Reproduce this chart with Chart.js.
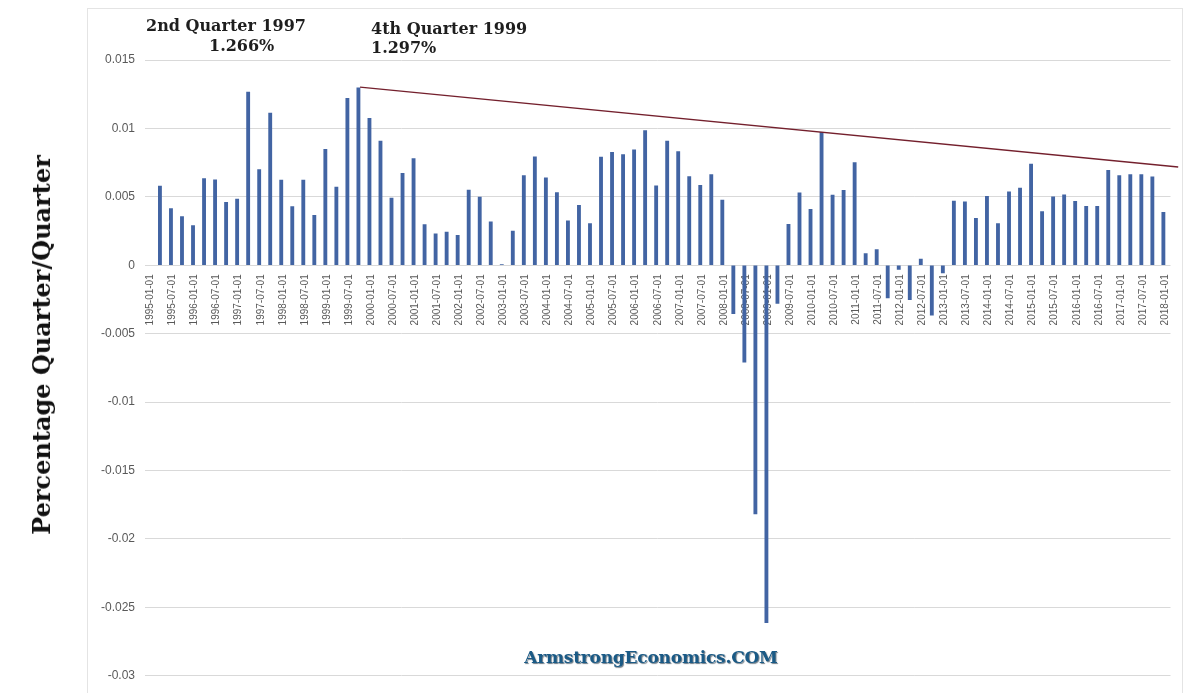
<!DOCTYPE html>
<html>
<head>
<meta charset="utf-8">
<script src="https://cdn.jsdelivr.net/npm/chart.js@4/dist/chart.umd.min.js"></script>
<style>
  html, body { margin: 0; padding: 0; background: #fff; }
  #wrap { position: relative; width: 1189px; height: 693px; overflow: hidden; }
  #frame { position: absolute; left: 87px; top: 8px; width: 1096px; height: 720px; border: 1px solid #e4e4e4; box-sizing: border-box; }
  canvas { position: absolute; left: 0; top: 0; }
  .ann { position: absolute; font-family: "DejaVu Serif", serif; font-weight: bold; color: #1e1e1e; font-size: 16px; line-height: 16px; white-space: nowrap; }
  #ytitle { position: absolute; font-family: "DejaVu Serif", serif; font-weight: bold; color: #111; font-size: 24px; line-height: 26px; white-space: nowrap;
            left: 42px; top: 345px; transform: translate(-50%, -50%) rotate(-90deg); }
  #wm { position: absolute; font-family: "DejaVu Serif", serif; font-weight: bold; color: #1a5a86; font-size: 17px; line-height: 20px; white-space: nowrap;
        left: 651px; top: 657px; transform: translate(-50%, -50%); text-shadow: 1px 1px 1px #6f7c86; letter-spacing: -0.2px; }
</style>
</head>
<body>
<div id="wrap">
  <div id="frame"></div>
  <canvas id="c" width="1189" height="693"></canvas>
  <div class="ann" style="left:146px; top:18px;">2nd Quarter 1997</div>
  <div class="ann" style="left:209px; top:38px;">1.266%</div>
  <div class="ann" style="left:371px; top:21px;">4th Quarter 1999</div>
  <div class="ann" style="left:371px; top:40px;">1.297%</div>
  <div id="ytitle">Percentage Quarter/Quarter</div>
  <div id="wm">ArmstrongEconomics.COM</div>
</div>
<script>
// Quarterly categories 1995-01-01 .. 2018-01-01
const quarterLabels = [
  "1995-01-01","1995-04-01","1995-07-01","1995-10-01",
  "1996-01-01","1996-04-01","1996-07-01","1996-10-01",
  "1997-01-01","1997-04-01","1997-07-01","1997-10-01",
  "1998-01-01","1998-04-01","1998-07-01","1998-10-01",
  "1999-01-01","1999-04-01","1999-07-01","1999-10-01",
  "2000-01-01","2000-04-01","2000-07-01","2000-10-01",
  "2001-01-01","2001-04-01","2001-07-01","2001-10-01",
  "2002-01-01","2002-04-01","2002-07-01","2002-10-01",
  "2003-01-01","2003-04-01","2003-07-01","2003-10-01",
  "2004-01-01","2004-04-01","2004-07-01","2004-10-01",
  "2005-01-01","2005-04-01","2005-07-01","2005-10-01",
  "2006-01-01","2006-04-01","2006-07-01","2006-10-01",
  "2007-01-01","2007-04-01","2007-07-01","2007-10-01",
  "2008-01-01","2008-04-01","2008-07-01","2008-10-01",
  "2009-01-01","2009-04-01","2009-07-01","2009-10-01",
  "2010-01-01","2010-04-01","2010-07-01","2010-10-01",
  "2011-01-01","2011-04-01","2011-07-01","2011-10-01",
  "2012-01-01","2012-04-01","2012-07-01","2012-10-01",
  "2013-01-01","2013-04-01","2013-07-01","2013-10-01",
  "2014-01-01","2014-04-01","2014-07-01","2014-10-01",
  "2015-01-01","2015-04-01","2015-07-01","2015-10-01",
  "2016-01-01","2016-04-01","2016-07-01","2016-10-01",
  "2017-01-01","2017-04-01","2017-07-01","2017-10-01",
  "2018-01-01"
];

// Quarter-over-quarter change (fraction)
const qoqValues = [
  null, 0.00578, 0.00414, 0.00356,
  0.00290, 0.00634, 0.00624, 0.00460,
  0.00484, 0.01266, 0.00699, 0.01113,
  0.00622, 0.00428, 0.00622, 0.00365,
  0.00847, 0.00571, 0.01219, 0.01297,
  0.01074, 0.00907, 0.00491, 0.00672,
  0.00779, 0.00298, 0.00230, 0.00242,
  0.00218, 0.00549, 0.00498, 0.00317,
  0.00005, 0.00249, 0.00656, 0.00793,
  0.00639, 0.00532, 0.00324, 0.00438,
  0.00305, 0.00791, 0.00825, 0.00808,
  0.00844, 0.00985, 0.00581, 0.00907,
  0.00830, 0.00648, 0.00585, 0.00663,
  0.00477, -0.00353, -0.00708, -0.01817,
  -0.02612, -0.00278, 0.00300, 0.00530,
  0.00409, 0.00972, 0.00513, 0.00547,
  0.00750, 0.00085, 0.00114, -0.00239,
  -0.00031, -0.00252, 0.00046, -0.00365,
  -0.00056, 0.00469, 0.00464, 0.00343,
  0.00503, 0.00305, 0.00537, 0.00564,
  0.00740, 0.00392, 0.00501, 0.00515,
  0.00467, 0.00431, 0.00431, 0.00694,
  0.00656, 0.00663, 0.00663, 0.00646,
  0.00387
];

// Resistance trend line (category index position, value)
const trendX = [19, 93.2];
const trendY = [0.01302, 0.00718];

// Y axis range / ticks
const yMin = -0.03, yMax = 0.015, yStep = 0.005;

const trendData = trendX.map((x, i) => ({ x: x, y: trendY[i] }));

new Chart(document.getElementById('c'), {
  data: {
    labels: quarterLabels,
    datasets: [
      {
        type: 'bar',
        data: qoqValues,
        backgroundColor: '#4264a3',
        borderWidth: 0,
        barThickness: 3.2,
        xAxisID: 'x',
        yAxisID: 'y',
        order: 2
      },
      {
        type: 'line',
        data: trendData,
        xAxisID: 'xl',
        yAxisID: 'y',
        borderColor: '#74202d',
        borderWidth: 1.4,
        pointRadius: 0,
        fill: false,
        clip: false,
        tension: 0,
        order: 1
      }
    ]
  },
  options: {
    responsive: false,
    animation: false,
    layout: { padding: { left: 0, top: 60, right: 18.5, bottom: 12 } },
    plugins: { legend: { display: false }, tooltip: { enabled: false }, title: { display: false } },
    scales: {
      x: {
        type: 'category',
        position: { y: 0 },
        offset: true,
        grid: { display: false, drawTicks: false },
        border: { display: false },
        ticks: {
          autoSkip: false,
          maxRotation: 90,
          minRotation: 90,
          padding: 9,
          color: '#595959',
          font: { family: 'Liberation Sans', size: 10 },
          callback: function (v, i) { return i % 2 === 0 ? quarterLabels[i] : ''; }
        }
      },
      xl: {
        type: 'linear',
        display: false,
        min: -0.5,
        max: quarterLabels.length - 0.5
      },
      y: {
        min: yMin,
        max: yMax,
        afterFit: function (s) { s.width = 145; },
        grid: { color: '#d9d9d9', lineWidth: 1, drawTicks: false },
        border: { display: false },
        ticks: {
          stepSize: yStep,
          padding: 10,
          color: '#595959',
          font: { family: 'Liberation Sans', size: 12 },
          callback: function (v) { const r = Math.round(v * 1000) / 1000; return String(r); }
        }
      }
    }
  }
});
</script>
</body>
</html>
